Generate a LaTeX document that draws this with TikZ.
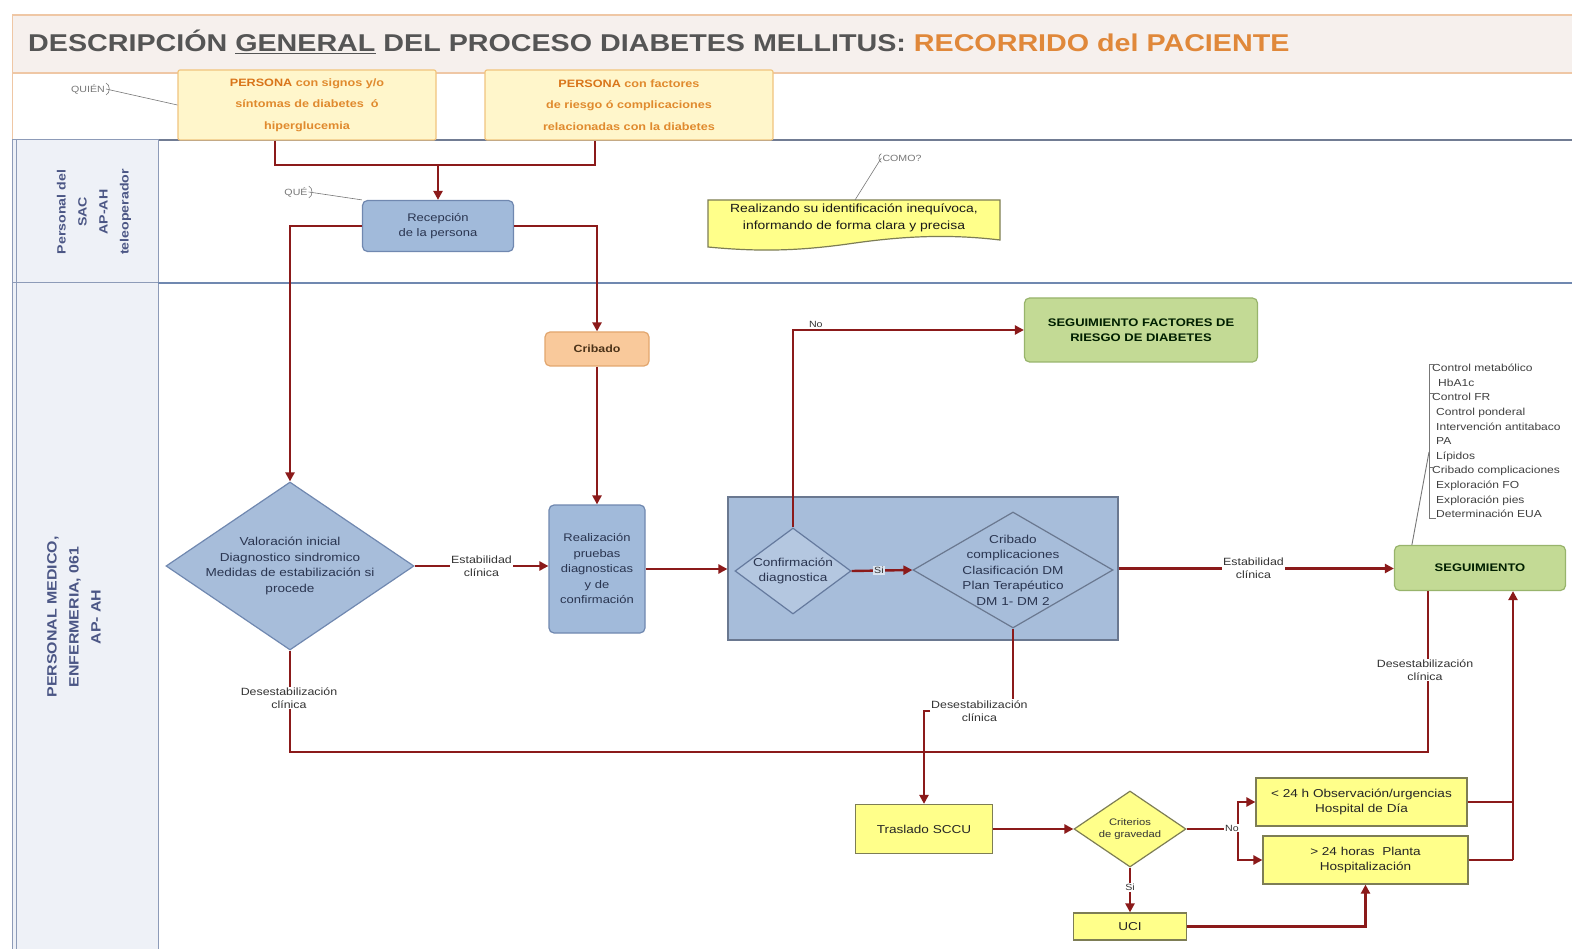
\documentclass[tikz,border=0pt]{standalone}
\usepackage{fontspec}
\setmainfont{Liberation Sans}[FakeStretch=1.18]
\usetikzlibrary{shapes.geometric,arrows.meta,calc}
\definecolor{lred}{HTML}{8B1A1A}
\definecolor{bluefill}{HTML}{A1BADA}
\definecolor{bluebd}{HTML}{7088B0}
\definecolor{grpfill}{HTML}{A7BDDA}
\definecolor{grpbd}{HTML}{6A7890}
\definecolor{greenfill}{HTML}{C3DA95}
\definecolor{greenbd}{HTML}{98B46C}
\definecolor{cribfill}{HTML}{F9C99B}
\definecolor{cribbd}{HTML}{E2A66E}
\definecolor{yelfill}{HTML}{FFFF8A}
\definecolor{yelbd}{HTML}{7D7D55}
\definecolor{pfill}{HTML}{FFF6CB}
\definecolor{pbd}{HTML}{F1C47E}
\definecolor{porange}{HTML}{E08A2E}
\definecolor{pdark}{HTML}{D9751A}
\definecolor{tgray}{HTML}{555555}
\definecolor{torange}{HTML}{E0883A}
\definecolor{lanefill}{HTML}{EEF1F7}
\definecolor{lanebd}{HTML}{8D9BB8}
\definecolor{lanetext}{HTML}{4B5685}
\definecolor{titlefill}{HTML}{F6F0ED}
\definecolor{titlebd}{HTML}{EFC7A5}
\definecolor{dtext}{HTML}{2A3550}
\definecolor{lgray}{HTML}{777777}
\newcommand\myfs[2]{\fontsize{#1}{#2}\selectfont}
\begin{document}
\begin{tikzpicture}[x=1pt,y=-1pt,
  conn/.style={draw=lred, line width=2.4pt},
  arr/.style={conn,-{Triangle[length=9pt,width=9pt]}},
  lbl/.style={fill=white, inner sep=1pt, font=\myfs{10.5}{13}, text=black!80, align=center},
  bluebox/.style={draw=bluebd, fill=bluefill, rounded corners=5pt, line width=1.2pt, font=\myfs{11}{15.5}, text=dtext, align=center, inner sep=2pt},
  bluedia/.style={diamond, draw=bluebd, fill=grpfill, line width=1.2pt, inner sep=0pt},
  diatext/.style={font=\myfs{11.5}{15.5}, text=dtext, align=center, inner sep=0pt},
  greenbox/.style={draw=greenbd, fill=greenfill, rounded corners=5pt, line width=1.2pt, font=\bfseries\myfs{11}{15}, text=black!70!green!40!black, align=center},
  yelbox/.style={draw=yelbd, fill=yelfill, line width=1.2pt, font=\myfs{11.5}{15.5}, text=black!85, align=center, inner sep=2pt},
  persbox/.style={draw=pbd, fill=pfill, line width=1.2pt, rounded corners=2pt, font=\bfseries\myfs{10.7}{21.5}, text=porange, align=center},
  lanetxt/.style={font=\bfseries\myfs{12}{21}, text=lanetext, align=center, rotate=90},
  callout/.style={font=\myfs{9}{11}, text=lgray, inner sep=1pt},
  lead/.style={draw=lgray, line width=0.6pt}
]
\path[use as bounding box, fill=white] (0,0) rectangle (1572,949);
% ---- title band
\fill[titlefill] (12,15) rectangle (1572,73);
\draw[titlebd, line width=1.5pt] (12,15) -- (1572,15);
\draw[titlebd, line width=1.5pt] (12,73) -- (1572,73);
\draw[titlebd, line width=1pt] (12,15) -- (12,140);
\node[anchor=west, inner sep=0, font=\bfseries\myfs{24.3}{28}] (title) at (28,42)
  {\textcolor{tgray}{DESCRIPCIÓN \underline{GENERAL} DEL PROCESO DIABETES MELLITUS:} \textcolor{torange}{RECORRIDO del PACIENTE}};
% ---- who row
\draw[lanebd!80!black, line width=1.8pt] (12,140) -- (1572,140);
% ---- lanes
\filldraw[fill=lanefill, draw=lanebd, line width=1pt] (12,140) rectangle (158,283);
\filldraw[fill=lanefill, draw=lanebd, line width=1pt] (12,283) rectangle (158,960);
\draw[lanebd, line width=1pt] (16,140) -- (16,960);
\draw[bluebd, line width=1.5pt] (158,283) -- (1572,283);
\node[lanetxt] (l1) at (94,212) {Personal del\\SAC\\AP-AH\\teleoperador};
\node[lanetxt, font=\bfseries\myfs{13.5}{22}] (l2) at (74,617) {PERSONAL MEDICO,\\ENFERMERIA, 061\\AP- AH};
% ---- persons
\node[persbox, minimum width=258pt, minimum height=70pt] (p1) at (307,105)
  {\textcolor{pdark}{PERSONA} con signos y/o\\síntomas de diabetes \ ó\\hiperglucemia};
\node[persbox, minimum width=288pt, minimum height=70pt] (p2) at (629,105)
  {\textcolor{pdark}{PERSONA} con factores\\de riesgo ó complicaciones\\relacionadas con la diabetes};
\node[callout] (quien) at (88,89) {QUIÉN};
\draw[lead] (quien.north east) to[out=-20,in=20] (quien.south east);
\draw[lead] (quien.east) -- (p1.west);
% ---- reception
\node[bluebox, minimum width=151pt, minimum height=51pt] (rec) at (438,226) {Recepción\\de la persona};
\coordinate (j1) at (438,165);
\draw[conn] ([xshift=-32pt]p1.south) |- (j1) -| ([xshift=-34pt]p2.south);
\draw[arr] (j1) -- (rec.north);
\node[callout] (que) at (296,192) {QUÉ};
\draw[lead] (que.north east) to[out=-20,in=20] (que.south east);
\draw[lead] (que.east) -- (rec.north west);
% ---- note
\draw[draw=yelbd, fill=yelfill, line width=1.2pt] (708,200) -- (1000,200) -- (1000,240)
  .. controls (950,234) and (905,236) .. (855,243) .. controls (800,251) and (760,252) .. (708,247) -- cycle;
\node[font=\myfs{11.8}{17}, text=black!90, align=center] (note) at (854,218)
  {Realizando su identificación inequívoca,\\informando de forma clara y precisa};
\node[callout] (como) at (902,158) {COMO?};
\draw[lead] (como.north west) to[out=200,in=160] (como.south west);
\draw[lead] (como.west) -- (855,200);
% ---- main flow
\node[draw=cribbd, fill=cribfill, rounded corners=5pt, line width=1.2pt, minimum width=104pt, minimum height=34pt,
  font=\bfseries\myfs{10.5}{13}, text=black!60!brown] (crib) at (597,349) {Cribado};
\node[bluedia, minimum width=248pt, minimum height=168pt] (val) at (290,566) {};
\node[diatext] (valt) at (val) {Valoración inicial\\Diagnostico sindromico\\Medidas de estabilización si\\procede};
\node[bluebox, minimum width=96pt, minimum height=128pt] (real) at (597,569)
  {Realización\\pruebas\\diagnosticas\\y de\\confirmación};
\node[draw=grpbd, fill=grpfill, line width=1.2pt, minimum width=390pt, minimum height=143pt] (grp) at (923,568.5) {};
\node[bluedia, draw=bluebd!90!black, fill=grpfill!85!white, minimum width=116pt, minimum height=86pt] (conf) at (793,571) {};
\node[diatext] (conft) at (conf) {Confirmación\\diagnostica};
\node[bluedia, draw=grpbd, minimum width=200pt, minimum height=116pt] (cc) at (1013,570) {};
\node[diatext] (cct) at (cc) {Cribado\\complicaciones\\Clasificación DM\\Plan Terapéutico\\DM 1- DM 2};
\node[greenbox, minimum width=233pt, minimum height=64pt] (sfr) at (1141,330) {SEGUIMIENTO FACTORES DE\\RIESGO DE DIABETES};
\node[greenbox, minimum width=171pt, minimum height=45pt] (seg) at (1480,568) {SEGUIMIENTO};
% list
\node[anchor=north west, align=left, font=\myfs{10.2}{14.6}, text=black!75, inner sep=0pt] (lst) at (1432,364)
  {Control metabólico\\\hspace*{6pt}HbA1c\\Control FR\\\hspace*{4pt}Control ponderal\\\hspace*{4pt}Intervención antitabaco\\\hspace*{4pt}PA\\\hspace*{4pt}Lípidos\\Cribado complicaciones\\\hspace*{4pt}Exploración FO\\\hspace*{4pt}Exploración pies\\\hspace*{4pt}Determinación EUA};
\draw[lead, line width=0.9pt] ([xshift=4pt]lst.north west) -- ([xshift=-3pt]lst.north west) -- ([xshift=-3pt]lst.south west) -- ([xshift=4pt]lst.south west);
\draw[lead, line width=0.9pt] ([xshift=-3pt,yshift=-29pt]lst.north west) -- ([xshift=3pt,yshift=-29pt]lst.north west);
\draw[lead, line width=0.9pt] ([xshift=-3pt,yshift=-103pt]lst.north west) -- ([xshift=3pt,yshift=-103pt]lst.north west);
\draw[lead, line width=0.9pt] ([xshift=-3pt,yshift=-88pt]lst.north west) -- ([xshift=18pt]seg.north west);
% connectors
\draw[arr] (rec.west) -| (val.north);
\draw[arr] (rec.east) -| (crib.north);
\draw[arr] (crib.south) -- (real.north);
\draw[arr] (val.east) -- (val.east -| real.west) node[lbl, pos=0.5] (lb1) {Estabilidad\\clínica};
\draw[arr] (real.east) -- (real.east -| grp.west);
\draw[arr] (conf.east) -- (cc.west) node[lbl, pos=0.45, fill=grpfill!40!white, font=\myfs{9}{10}] (lsi) {Si};
\draw[arr] (conf.north) |- (sfr.west) node[lbl, pos=0.53, font=\myfs{9}{10}, anchor=south west, fill=none] (lno) {No};
\draw[arr] (grp.east) -- (grp.east -| seg.west) node[lbl, pos=0.49] (lb2) {Estabilidad\\clínica};
% bottom loop
\coordinate (bl) at (1428,752);
\draw[conn] (val.south) |- (bl) -- (bl |- seg.south);
\node[lbl] (ld1) at (289,698) {Desestabilización\\clínica};
\node[lbl] (ld3) at (1425,670) {Desestabilización\\clínica};
% lower part
\node[yelbox, minimum width=137pt, minimum height=49pt] (tras) at (924,829) {Traslado SCCU};
\node[diamond, draw=yelbd, fill=yelfill, line width=1.2pt, inner sep=0pt, minimum width=112pt, minimum height=76pt] (crit) at (1130,829) {};
\node[diatext, font=\myfs{9.5}{12.5}, text=black!80] (critt) at (crit) {Criterios\\de gravedad};
\node[yelbox, minimum width=211pt, minimum height=48pt] (obs) at (1361.5,802) {< 24 h Observación/urgencias\\Hospital de Día};
\node[yelbox, minimum width=205pt, minimum height=48pt] (hosp) at (1365.5,860) {> 24 horas \ Planta\\Hospitalización};
\node[yelbox, minimum width=113pt, minimum height=27pt] (uci) at (1130,926.5) {UCI};
\node[lbl, anchor=west] (ld2) at (930,711) {Desestabilización\\clínica};
\draw[conn] (cc.south) -- (cc.south |- ld2.north);
\draw[arr] (ld2.west) -| (tras.north);
\draw[arr] (tras.east) -- (crit.west);
\coordinate (jn) at (1238,829);
\draw[conn] (crit.east) -- (jn);
\draw[arr] (jn) |- (obs.west);
\draw[arr] (jn) |- (hosp.west);
\node[lbl, font=\myfs{9}{10}] (lno2) at (1232,828) {No};
\draw[arr] (crit.south) -- (uci.north) node[lbl, pos=0.45, font=\myfs{9}{10}] (lsi2) {Si};
\draw[arr] (uci.east) -| (hosp.south);
\coordinate (jr) at (1513,860);
\draw[conn] (hosp.east) -- (jr);
\draw[conn] (obs.east) -- (obs.east -| jr);
\draw[arr] (jr) -- (jr |- seg.south);
\end{tikzpicture}
\end{document}
